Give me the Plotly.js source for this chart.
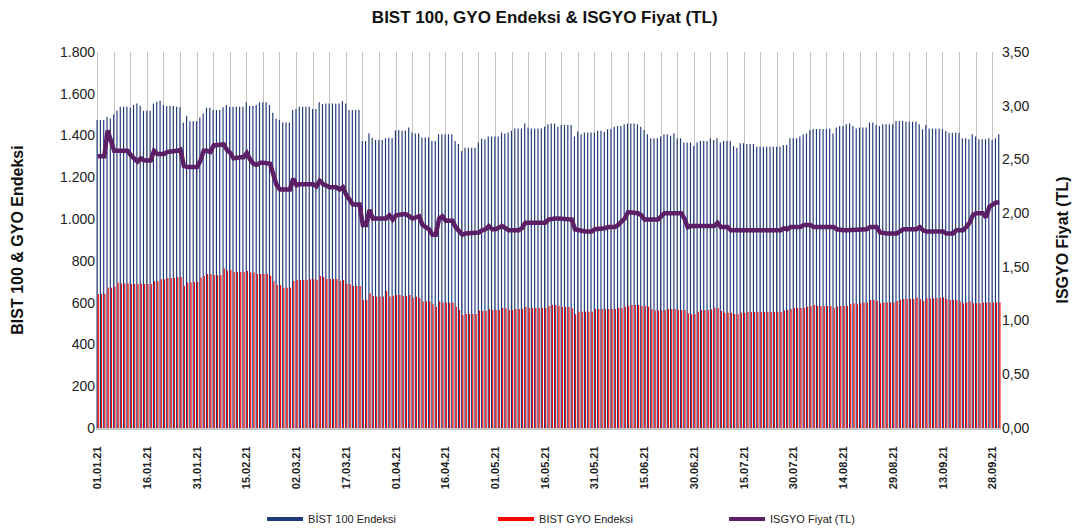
<!DOCTYPE html>
<html>
<head>
<meta charset="utf-8">
<script src="https://cdn.plot.ly/plotly-3.0.1.min.js"></script>
<style>html,body{margin:0;padding:0;background:#fff;}#chart{width:1083px;height:529px;}</style>
</head>
<body>
<div id="chart"></div>
<script>
// Daily values, 01.01.2021 .. 30.09.2021
var startDate = '2021-01-01';
var bist100 = [
1474,1474,1474,1490,1482,1501,1519,1538,1538,1538,
1533,1546,1554,1543,1519,1519,1519,1554,1562,1567,
1546,1541,1541,1541,1538,1535,1463,1494,1469,1469,
1469,1487,1506,1533,1533,1522,1522,1522,1535,1546,
1538,1538,1538,1538,1538,1559,1541,1541,1546,1559,
1559,1559,1546,1509,1482,1474,1463,1463,1463,1522,
1527,1538,1538,1538,1538,1527,1527,1559,1551,1554,
1554,1554,1554,1554,1565,1554,1522,1522,1522,1522,
1374,1374,1411,1390,1379,1379,1379,1387,1390,1387,
1424,1427,1423,1423,1439,1415,1410,1410,1391,1391,
1391,1374,1374,1406,1406,1406,1406,1406,1374,1359,
1326,1342,1342,1342,1342,1367,1385,1382,1395,1395,
1395,1395,1415,1410,1415,1423,1434,1434,1434,1458,
1439,1434,1434,1434,1434,1442,1454,1458,1458,1442,
1450,1450,1450,1450,1395,1420,1406,1415,1415,1415,
1415,1423,1423,1418,1430,1430,1442,1446,1446,1454,
1458,1458,1458,1454,1442,1426,1406,1387,1387,1387,
1395,1406,1406,1399,1410,1387,1387,1367,1367,1367,
1350,1367,1374,1374,1374,1387,1379,1387,1367,1374,
1374,1374,1350,1342,1363,1363,1359,1359,1359,1347,
1347,1347,1347,1347,1347,1347,1347,1355,1355,1387,
1387,1387,1395,1406,1410,1426,1431,1431,1431,1431,
1431,1434,1410,1439,1446,1446,1454,1458,1446,1434,
1439,1439,1439,1462,1462,1450,1446,1454,1454,1454,
1454,1470,1470,1470,1466,1466,1466,1466,1454,1430,
1450,1434,1434,1434,1434,1430,1422,1414,1414,1414,
1414,1387,1387,1382,1406,1395,1382,1382,1382,1387,
1379,1387,1406
];
var gyo = [
641,641,641,672,672,676,697,692,692,692,
689,689,689,692,689,689,689,702,702,712,
712,718,718,718,723,723,680,697,697,699,
699,720,728,737,737,731,731,731,764,753,
756,747,747,747,747,752,745,745,737,737,
737,737,729,702,684,684,672,672,672,704,
708,708,708,708,712,712,707,729,723,713,
713,713,713,704,708,692,688,680,680,680,
613,613,645,632,629,629,629,656,629,633,
637,637,632,632,637,624,629,622,605,605,
605,592,581,605,601,601,600,600,581,565,
541,546,546,546,546,562,560,560,570,565,
565,565,576,573,565,565,570,570,570,581,
574,574,574,574,574,574,584,589,589,584,
579,579,579,573,544,557,557,557,557,557,
570,570,570,570,570,570,570,576,573,581,
584,589,589,589,584,584,581,570,562,562,
562,565,570,570,570,565,565,565,549,544,
544,557,565,565,565,568,576,573,560,552,
552,552,546,544,552,552,555,555,555,555,
555,555,555,555,555,555,555,562,565,570,
574,574,574,574,581,584,589,584,584,584,
584,584,574,581,584,584,584,592,597,593,
597,601,601,613,613,608,597,601,601,601,
601,608,613,617,617,617,617,625,617,608,
621,621,621,621,624,625,617,613,613,613,
605,597,601,605,597,597,597,601,601,601,
601,601,601
];
var isgyo = [
2.53,2.53,2.53,2.77,2.68,2.58,2.58,2.58,2.58,2.58,
2.54,2.51,2.48,2.51,2.49,2.49,2.49,2.58,2.55,2.55,
2.55,2.57,2.57,2.57,2.58,2.59,2.44,2.43,2.43,2.43,
2.43,2.49,2.58,2.58,2.57,2.63,2.63,2.63,2.64,2.59,
2.56,2.51,2.52,2.52,2.52,2.56,2.50,2.46,2.45,2.47,
2.47,2.47,2.46,2.36,2.26,2.22,2.22,2.22,2.22,2.32,
2.26,2.27,2.27,2.27,2.27,2.27,2.25,2.30,2.27,2.25,
2.24,2.24,2.24,2.22,2.24,2.17,2.12,2.08,2.08,2.08,
1.89,1.89,2.03,1.95,1.95,1.95,1.95,1.95,1.98,1.94,
1.98,1.99,1.99,1.99,1.97,1.95,1.96,1.97,1.89,1.87,
1.85,1.80,1.80,1.95,1.97,1.93,1.93,1.93,1.87,1.83,
1.80,1.81,1.81,1.81,1.81,1.82,1.84,1.85,1.88,1.85,
1.85,1.86,1.88,1.86,1.84,1.84,1.84,1.84,1.86,1.91,
1.91,1.91,1.91,1.91,1.91,1.91,1.94,1.95,1.95,1.95,
1.95,1.95,1.95,1.94,1.85,1.84,1.83,1.83,1.83,1.83,
1.85,1.85,1.85,1.86,1.87,1.87,1.87,1.89,1.92,1.95,
2.01,2.01,2.00,2.00,1.98,1.94,1.94,1.94,1.94,1.94,
1.97,2.00,2.00,2.00,2.00,2.00,2.00,1.95,1.87,1.88,
1.88,1.88,1.88,1.88,1.88,1.88,1.88,1.91,1.87,1.87,
1.87,1.84,1.84,1.84,1.85,1.85,1.85,1.84,1.84,1.84,
1.84,1.84,1.84,1.84,1.84,1.84,1.84,1.86,1.85,1.87,
1.87,1.87,1.87,1.89,1.89,1.89,1.87,1.87,1.87,1.87,
1.87,1.87,1.87,1.85,1.84,1.84,1.84,1.84,1.85,1.85,
1.85,1.85,1.85,1.87,1.87,1.87,1.82,1.81,1.81,1.81,
1.81,1.81,1.83,1.85,1.85,1.85,1.85,1.85,1.87,1.84,
1.83,1.83,1.83,1.83,1.83,1.83,1.81,1.81,1.81,1.84,
1.84,1.84,1.87,1.91,1.98,2.00,2.00,2.00,1.96,2.06,
2.08,2.10,2.10
];
var seriesNames = ['BİST 100 Endeksi', 'BIST GYO Endeksi', 'ISGYO Fiyat (TL)'];

// build daily date categories
var dates = [];
(function(){
  var d0 = new Date(startDate + 'T00:00:00Z');
  for (var i = 0; i < bist100.length; i++) {
    var d = new Date(d0.getTime() + i * 86400000);
    dates.push(d.toISOString().slice(0, 10));
  }
})();

var NAVY = '#1F3A78', RED = '#FF0000', PURPLE = '#5C1F66';
var FONT = 'Liberation Sans, Arial, sans-serif';

var traces = [
  {type:'bar', x:dates, y:bist100, name:seriesNames[0], marker:{color:NAVY}, showlegend:false},
  {type:'bar', x:dates, y:gyo, name:seriesNames[1], marker:{color:RED}, showlegend:false},
  {type:'scatter', mode:'lines', x:dates, y:isgyo, yaxis:'y2', name:seriesNames[2],
   line:{color:PURPLE, width:4.5}, showlegend:false},
  // legend keys
  {type:'scatter', mode:'lines', x:[null], y:[null], name:seriesNames[0], line:{color:NAVY, width:4}},
  {type:'scatter', mode:'lines', x:[null], y:[null], name:seriesNames[1], line:{color:RED, width:4}},
  {type:'scatter', mode:'lines', x:[null], y:[null], name:seriesNames[2], line:{color:PURPLE, width:4}, yaxis:'y2'}
];

var DAY = 86400000;
var layout = {
  width:1083, height:529,
  margin:{l:96, r:82, t:52, b:101, autoexpand:false},
  paper_bgcolor:'#fff', plot_bgcolor:'#fff',
  separators:',.',
  font:{family:FONT, color:'#222'},
  barmode:'group', bargap:0.3, bargroupgap:0,
  hovermode:false,
  title:{text:'BIST 100, GYO Endeksi & ISGYO Fiyat (TL)', x:0.503, xanchor:'center', y:0.967, yanchor:'middle',
         font:{family:FONT, size:17, weight:'bold', color:'#111'}},
  xaxis:{
    type:'date', range:['2020-12-31 12:00', '2021-09-30 12:00'],
    tick0:'2021-01-01', dtick:15*DAY, tickformat:'%d.%m.%y', tickangle:-90,
    tickfont:{family:FONT, size:11, weight:'bold', color:'#222'}, ticklabelstandoff:12,
    ticks:'', showgrid:true, gridcolor:'#c4c4c4', gridwidth:1,
    minor:{dtick:5*DAY, tick0:'2021-01-01', showgrid:true, gridcolor:'#c4c4c4', gridwidth:1},
    showline:true, linecolor:'#c8c8c8', linewidth:2, zeroline:false, automargin:false
  },
  yaxis:{
    range:[0,1800], dtick:200, tickformat:',.0f', showgrid:false, zeroline:false, automargin:false,
    tickfont:{family:FONT, size:14, color:'#222'}, ticks:'',
    title:{text:'BIST 100 & GYO Endeksi', font:{family:FONT, size:16, weight:'bold', color:'#111'}, standoff:32}
  },
  yaxis2:{
    overlaying:'y', side:'right', range:[0,3.5], dtick:0.5, tickformat:'.2f', showgrid:false, zeroline:false, automargin:false,
    tickfont:{family:FONT, size:14, color:'#222'}, ticks:'',
    title:{text:'ISGYO Fiyat (TL)', font:{family:FONT, size:16, weight:'bold', color:'#111'}, standoff:28}
  },
  legend:{orientation:'h', x:0.1835, xanchor:'left', y:-0.242, yanchor:'middle',
          font:{family:FONT, size:11, color:'#222'}, itemwidth:36,
          entrywidth:180, entrywidthmode:'pixels', traceorder:'normal', bgcolor:'rgba(0,0,0,0)'}
};

Plotly.newPlot('chart', traces, layout, {displayModeBar:false, staticPlot:true});
</script>
</body>
</html>
